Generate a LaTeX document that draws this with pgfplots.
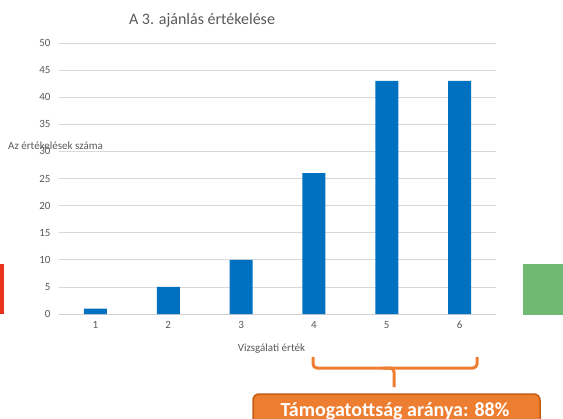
\documentclass[border=0pt]{standalone}
\usepackage{pgfplots}
\pgfplotsset{compat=1.18}
\usepackage{fontspec}
\setmainfont{Carlito}
\definecolor{barblue}{HTML}{0070C0}
\definecolor{gridgray}{HTML}{D9D9D9}
\definecolor{axisgray}{HTML}{D0D0D0}
\definecolor{txtgray}{HTML}{595959}
\definecolor{orangec}{HTML}{ED7D31}
\definecolor{darkorange}{HTML}{C55A11}
\definecolor{redc}{HTML}{E8321E}
\definecolor{greenc}{HTML}{70B972}
\begin{document}
\begin{tikzpicture}[x=1bp,y=1bp]
\useasboundingbox (0,0) rectangle (563,418);
\fill[redc] (0,104) rectangle (4,154);
\fill[greenc] (523,103) rectangle (563,154);
\begin{axis}[
  at={(59bp,104bp)}, anchor=south west,
  scale only axis, width=437bp, height=271bp,
  xmin=0.5, xmax=6.5, ymin=0, ymax=50,
  ytick={0,5,...,50}, xtick={1,...,6},
  /pgf/number format/assume math mode=true,
  axis lines*=left,
  y axis line style={draw=none},
  x axis line style={draw=axisgray, line width=1bp},
  ymajorgrids, grid style={draw=gridgray, line width=0.8bp},
  major tick length=0pt,
  tick style={draw=none},
  ticklabel style={font=\fontsize{11bp}{13bp}\selectfont, text=txtgray},
  yticklabel style={xshift=-5bp},
  xticklabel style={yshift=-3.5bp},
  clip=false,
]
\addplot[ybar, bar width=23bp, fill=barblue, draw=none] coordinates {(1,1) (2,5) (3,10) (4,26) (5,43) (6,43)};
\end{axis}
\node[font=\fontsize{16bp}{19bp}\selectfont, text=txtgray] at (202,398) {A 3. ajánlás értékelése};
\node[anchor=west, inner sep=0pt, font=\fontsize{11bp}{13bp}\selectfont, text=txtgray] at (8,272) {Az értékelések száma};
\node[font=\fontsize{11bp}{13bp}\selectfont, text=txtgray] at (271.5,69) {Vizsgálati érték};
\draw[orangec, line width=3bp, rounded corners=4bp] (313,61) -- (313,50) -- (477,50) -- (477,61);
\draw[orangec, line width=3bp, rounded corners=4bp] (383,50) -- (394,50) -- (394,31);
\draw[fill=orangec, draw=darkorange, line width=1.5bp, rounded corners=6bp] (253,24) rectangle (540,-30);
\node[font=\fontsize{20bp}{24bp}\selectfont\bfseries, text=white] at (395,7) {Támogatottság aránya: 88\%};
\end{tikzpicture}
\end{document}
